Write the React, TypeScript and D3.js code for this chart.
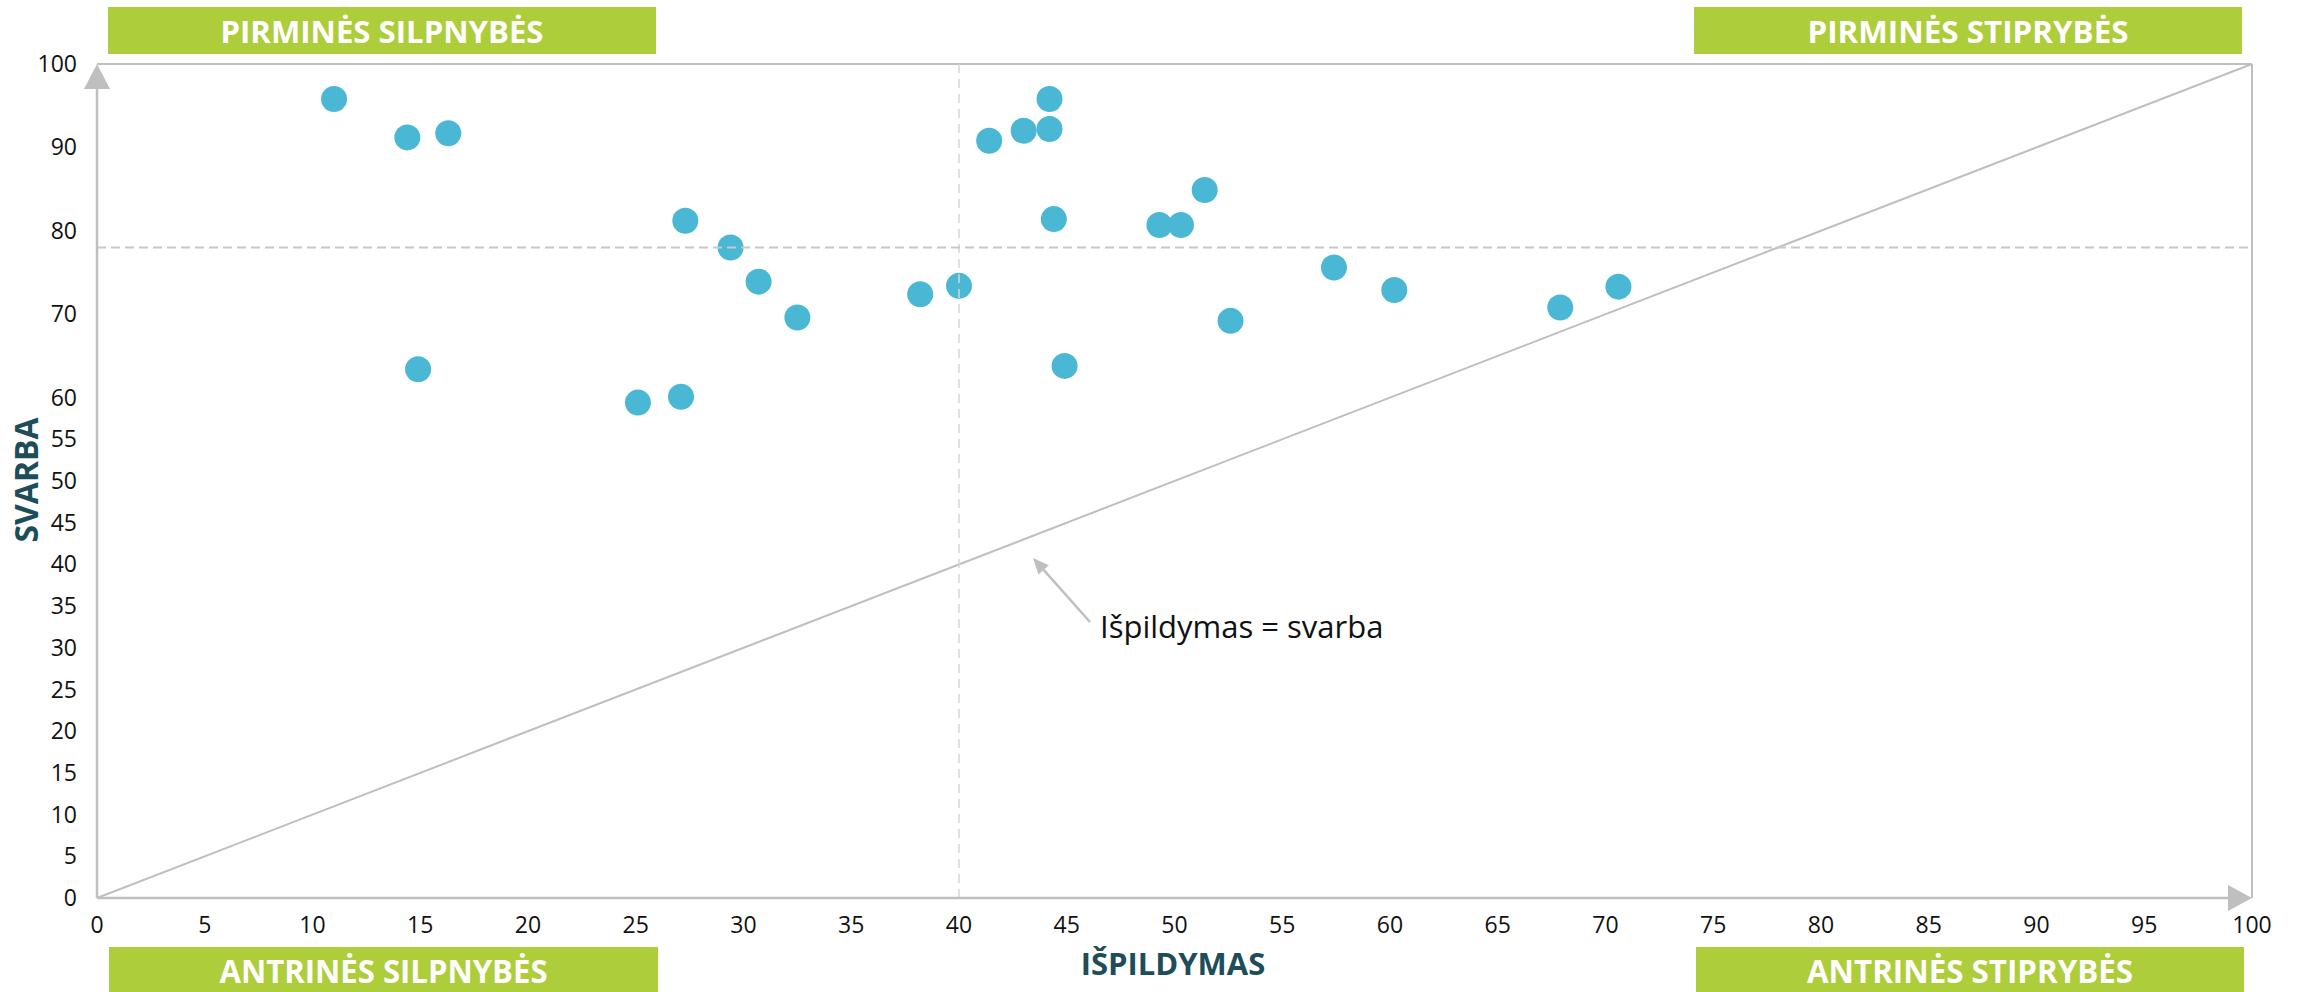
import React from "react";
import * as d3 from "d3";

// Performance (Išpildymas) vs importance (Svarba)
const ispildymas = [11.0, 14.4, 16.3, 27.3, 29.4, 30.7, 32.5, 14.9, 25.1, 27.1, 44.2, 41.4, 43.0, 44.2, 44.4, 49.3, 50.3, 51.4, 38.2, 40.0, 52.6, 44.9, 57.4, 60.2, 67.9, 70.6];
const svarba = [95.8, 91.2, 91.7, 81.2, 78.0, 73.9, 69.6, 63.4, 59.4, 60.1, 95.8, 90.8, 92.0, 92.2, 81.4, 80.7, 80.7, 84.9, 72.4, 73.4, 69.2, 63.8, 75.6, 72.9, 70.8, 73.3];

const xTicks = [0, 5, 10, 15, 20, 25, 30, 35, 40, 45, 50, 55, 60, 65, 70, 75, 80, 85, 90, 95, 100];
const yTicks = [0, 5, 10, 15, 20, 25, 30, 35, 40, 45, 50, 55, 60, 70, 80, 90, 100];

const avgIspildymas = 40;
const avgSvarba = 78;

const quadrantLabels = ["PIRMINĖS SILPNYBĖS", "PIRMINĖS STIPRYBĖS", "ANTRINĖS SILPNYBĖS", "ANTRINĖS STIPRYBĖS"];
const xTitle = "IŠPILDYMAS";
const yTitle = "SVARBA";
const annotation = "Išpildymas = svarba";

const GREEN = "#ADCD3B";
const TEAL = "#1E4D5A";
const GREY = "#BFBFBF";
const DOT = "#4AB8D4";

export default function App() {
  const W = 2300, H = 992;
  const x = d3.scaleLinear().domain([0, 100]).range([97, 2252]);
  const y = d3.scaleLinear().domain([0, 100]).range([898, 64]);
  const pts = ispildymas.map((v, i) => ({ x: v, y: svarba[i] }));
  const diag = d3.line<[number, number]>().x(d => x(d[0])).y(d => y(d[1]))([[0, 0], [100, 100]]) || "";

  const boxes = [
    { x0: 108, x1: 656, y0: 7, y1: 54, base: 43, fs: 31, tl: 323 },
    { x0: 1694, x1: 2242, y0: 7, y1: 54, base: 43, fs: 31, tl: 321 },
    { x0: 109, x1: 658, y0: 947, y1: 996, base: 983, fs: 32, tl: 328 },
    { x0: 1696, x1: 2244, y0: 947, y1: 996, base: 983, fs: 32, tl: 326 },
  ];

  const x0 = x(0), x1 = x(100), y0 = y(0), y1 = y(100);
  const font = "'Open Sans', 'Noto Sans', sans-serif";

  // annotation arrow
  const ax0 = 1090, ay0 = 622, ax1 = 1033, ay1 = 558;
  const ang = Math.atan2(ay1 - ay0, ax1 - ax0);
  const hl = 16, hw = 7;
  const bx = ax1 - hl * Math.cos(ang), by = ay1 - hl * Math.sin(ang);
  const head = `M${ax1},${ay1} L${bx + hw * Math.sin(ang)},${by - hw * Math.cos(ang)} L${bx - hw * Math.sin(ang)},${by + hw * Math.cos(ang)} Z`;

  return (
    <svg width={W} height={H} style={{ position: "absolute", left: 0, top: 0, background: "#fff" }} fontFamily={font}>
      {/* quadrant label boxes */}
      {boxes.map((b, i) => (
        <g key={i}>
          <rect x={b.x0} y={b.y0} width={b.x1 - b.x0} height={b.y1 - b.y0} fill={GREEN} />
          <text x={(b.x0 + b.x1) / 2} y={b.base} textAnchor="middle" fill="#fff" fontWeight="bold" fontSize={b.fs}
            textLength={b.tl} lengthAdjust="spacingAndGlyphs">{quadrantLabels[i]}</text>
        </g>
      ))}

      {/* frame: top and right borders */}
      <line x1={x0} y1={y1} x2={x1} y2={y1} stroke={GREY} strokeWidth={2} />
      <line x1={x1} y1={y1} x2={x1} y2={y0} stroke={GREY} strokeWidth={2} />

      {/* diagonal */}
      <path d={diag} stroke={GREY} strokeWidth={2} fill="none" />

      {/* points */}
      {pts.map((p, i) => (
        <circle key={i} cx={x(p.x)} cy={y(p.y)} r={13} fill={DOT} />
      ))}

      {/* average dashed lines */}
      <line x1={x(avgIspildymas)} y1={y1} x2={x(avgIspildymas)} y2={y0} stroke="#D6D6D6" strokeWidth={1.5} strokeDasharray="9,6" />
      <line x1={x0} y1={y(avgSvarba)} x2={x1} y2={y(avgSvarba)} stroke="#C8C8C8" strokeWidth={2} strokeDasharray="9,5" />

      {/* axes with arrows */}
      <line x1={x0} y1={y0} x2={x0} y2={y1 + 20} stroke={GREY} strokeWidth={2.5} />
      <path d={`M${x0},${y1} L${x0 - 13},${y1 + 25} L${x0 + 13},${y1 + 25} Z`} fill={GREY} />
      <line x1={x0} y1={y0} x2={x1 - 20} y2={y0} stroke={GREY} strokeWidth={2.5} />
      <path d={`M${x1},${y0} L${x1 - 24},${y0 - 13} L${x1 - 24},${y0 + 13} Z`} fill={GREY} />

      {/* tick labels */}
      {xTicks.map(t => (
        <text key={"x" + t} x={x(t)} y={925} dy="0.35em" textAnchor="middle" fontSize={23} fill="#111">{t}</text>
      ))}
      {yTicks.map(t => (
        <text key={"y" + t} x={77} y={y(t)} dy="0.35em" textAnchor="end" fontSize={23} fill="#111">{t}</text>
      ))}

      {/* axis titles */}
      <text x={1173} y={975} textAnchor="middle" fontSize={31} fontWeight="bold" fill={TEAL}>{xTitle}</text>
      <text transform={`translate(38,480) rotate(-90)`} textAnchor="middle" fontSize={32} fontWeight="bold" fill={TEAL}>{yTitle}</text>

      {/* annotation */}
      <line x1={ax0} y1={ay0} x2={bx} y2={by} stroke={GREY} strokeWidth={2.5} />
      <path d={head} fill={GREY} />
      <text x={1100} y={638} fontSize={31} fill="#111">{annotation}</text>
    </svg>
  );
}
